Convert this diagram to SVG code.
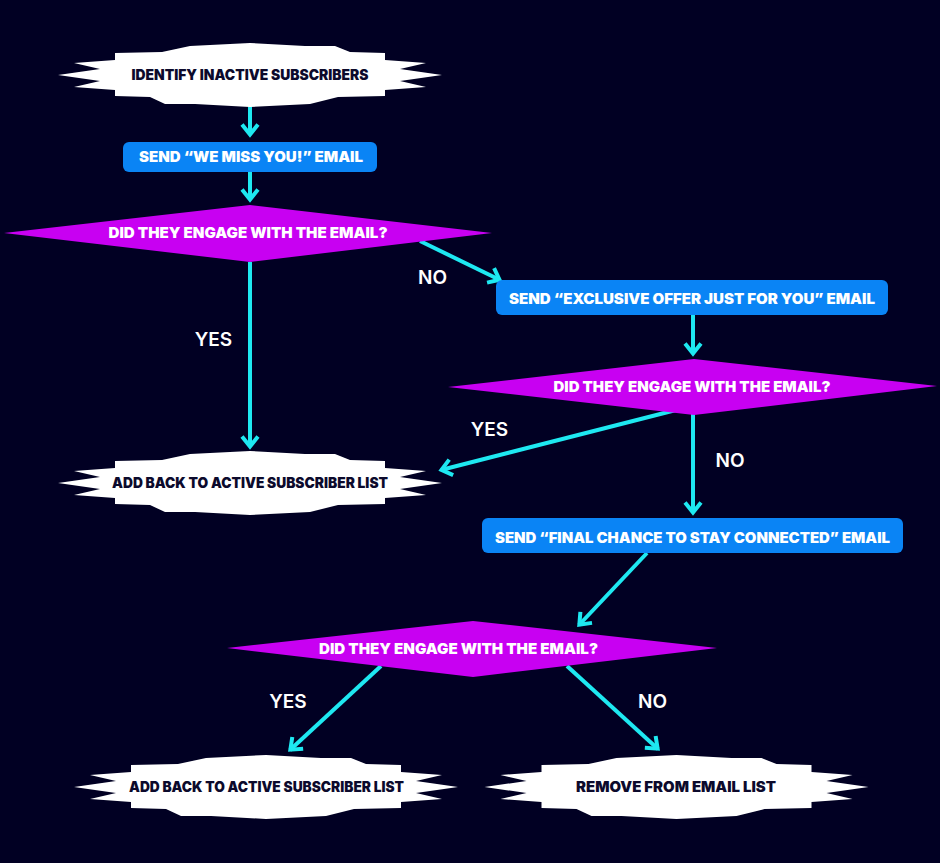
<svg xmlns="http://www.w3.org/2000/svg" xmlns:xlink="http://www.w3.org/1999/xlink" width="940" height="863" viewBox="0 0 940 863">
  <style>
    .burst { fill: #ffffff; }
    .box { fill: #0a84f5; }
    .dia { fill: #c800f2; }
    .conn { stroke: #1ee8f1; stroke-width: 4; fill: none; marker-end: url(#chev); }
    .t-dark { font-family: Inter, "Liberation Sans", sans-serif; font-weight: 900; font-size: 14.5px; fill: #0c0a2c; text-anchor: middle; }
    .t-white { font-family: Inter, "Liberation Sans", sans-serif; font-weight: 900; font-size: 14.5px; fill: #ffffff; text-anchor: middle; }
    .t-dia { font-family: Inter, "Liberation Sans", sans-serif; font-weight: 900; font-size: 15px; fill: #ffffff; text-anchor: middle; }
    .lbl { font-family: Inter, "Liberation Sans", sans-serif; font-weight: 600; font-size: 19px; fill: #ffffff; text-anchor: middle; }
  </style>
  <defs>
    <marker id="chev" viewBox="-16 -12 20 24" markerUnits="userSpaceOnUse" markerWidth="20" markerHeight="24" refX="-2.5" refY="0" orient="auto" overflow="visible">
      <path d="M-13,-8 L-3,0 L-13,8" fill="none" stroke="#1ee8f1" stroke-width="4" stroke-linejoin="miter"/>
    </marker>
    <path id="burstShape" class="burst" d="M-192,0 L-150,-6 L-176,-12 L-135,-15 L-135,-22 L-88,-23 L-60,-29 L0,-32 L55,-29 L85,-29 L100,-23 L135,-22 L135,-15 L176,-12 L150,-6 L192,0 L150,6 L176,12 L135,15 L135,21 L88,22 L60,29 L0,32 L-55,29 L-85,29 L-100,22 L-135,21 L-135,15 L-176,12 L-150,6 Z"/>
  </defs>

  <rect x="0" y="0" width="940" height="863" fill="#010023"/>

  <g id="connectors">
    <path class="conn" d="M250,105 L250,135"/>
    <path class="conn" d="M250,172 L250,200"/>
    <path class="conn" d="M250,262 L250,447"/>
    <path class="conn" d="M420,241 L500,280"/>
    <path class="conn" d="M693,315 L693,354"/>
    <path class="conn" d="M676,410 L441,470"/>
    <path class="conn" d="M693,414 L693,513"/>
    <path class="conn" d="M647,553 L579,625"/>
    <path class="conn" d="M381,666 L290,750"/>
    <path class="conn" d="M567,666 L658,749"/>
    <text class="lbl" x="432.5" y="284">NO</text>
    <text class="lbl" x="213.5" y="346">YES</text>
    <text class="lbl" x="489.5" y="436">YES</text>
    <text class="lbl" x="730" y="467">NO</text>
    <text class="lbl" x="288" y="708">YES</text>
    <text class="lbl" x="652.5" y="708">NO</text>
  </g>

  <g id="identify">
    <use xlink:href="#burstShape" href="#burstShape" transform="translate(250,75)"/>
    <text class="t-dark" x="250" y="80" textLength="237" lengthAdjust="spacingAndGlyphs">IDENTIFY INACTIVE SUBSCRIBERS</text>
  </g>

  <g id="send-miss">
    <rect class="box" x="123" y="142" width="254" height="30" rx="6"/>
    <text class="t-white" x="251" y="162" textLength="224" lengthAdjust="spacingAndGlyphs">SEND “WE MISS YOU!” EMAIL</text>
  </g>

  <g id="decision1">
    <polygon class="dia" points="4,233 250,205 492,233 250,262"/>
    <text class="t-dia" x="248" y="238" textLength="279" lengthAdjust="spacingAndGlyphs">DID THEY ENGAGE WITH THE EMAIL?</text>
  </g>

  <g id="send-offer">
    <rect class="box" x="496" y="280" width="392" height="35" rx="6"/>
    <text class="t-white" x="692" y="304" textLength="366" lengthAdjust="spacingAndGlyphs">SEND “EXCLUSIVE OFFER JUST FOR YOU” EMAIL</text>
  </g>

  <g id="decision2">
    <polygon class="dia" points="448,387 694,359 937,386 694,415"/>
    <text class="t-dia" x="692" y="392" textLength="277" lengthAdjust="spacingAndGlyphs">DID THEY ENGAGE WITH THE EMAIL?</text>
  </g>

  <g id="add-back-1">
    <use xlink:href="#burstShape" href="#burstShape" transform="translate(250,483)"/>
    <text class="t-dark" x="250" y="488" textLength="276" lengthAdjust="spacingAndGlyphs">ADD BACK TO ACTIVE SUBSCRIBER LIST</text>
  </g>

  <g id="send-final">
    <rect class="box" x="482" y="518" width="421" height="35" rx="6"/>
    <text class="t-white" x="692.5" y="543" textLength="395" lengthAdjust="spacingAndGlyphs">SEND “FINAL CHANCE TO STAY CONNECTED” EMAIL</text>
  </g>

  <g id="decision3">
    <polygon class="dia" points="227,648 473,621 717,648 473,677"/>
    <text class="t-dia" x="458.5" y="654" textLength="279" lengthAdjust="spacingAndGlyphs">DID THEY ENGAGE WITH THE EMAIL?</text>
  </g>

  <g id="add-back-2">
    <use xlink:href="#burstShape" href="#burstShape" transform="translate(266,787)"/>
    <text class="t-dark" x="266.5" y="792" textLength="275" lengthAdjust="spacingAndGlyphs">ADD BACK TO ACTIVE SUBSCRIBER LIST</text>
  </g>

  <g id="remove">
    <use xlink:href="#burstShape" href="#burstShape" transform="translate(676.5,787)"/>
    <text class="t-dark" x="676" y="792" textLength="200" lengthAdjust="spacingAndGlyphs">REMOVE FROM EMAIL LIST</text>
  </g>
</svg>
